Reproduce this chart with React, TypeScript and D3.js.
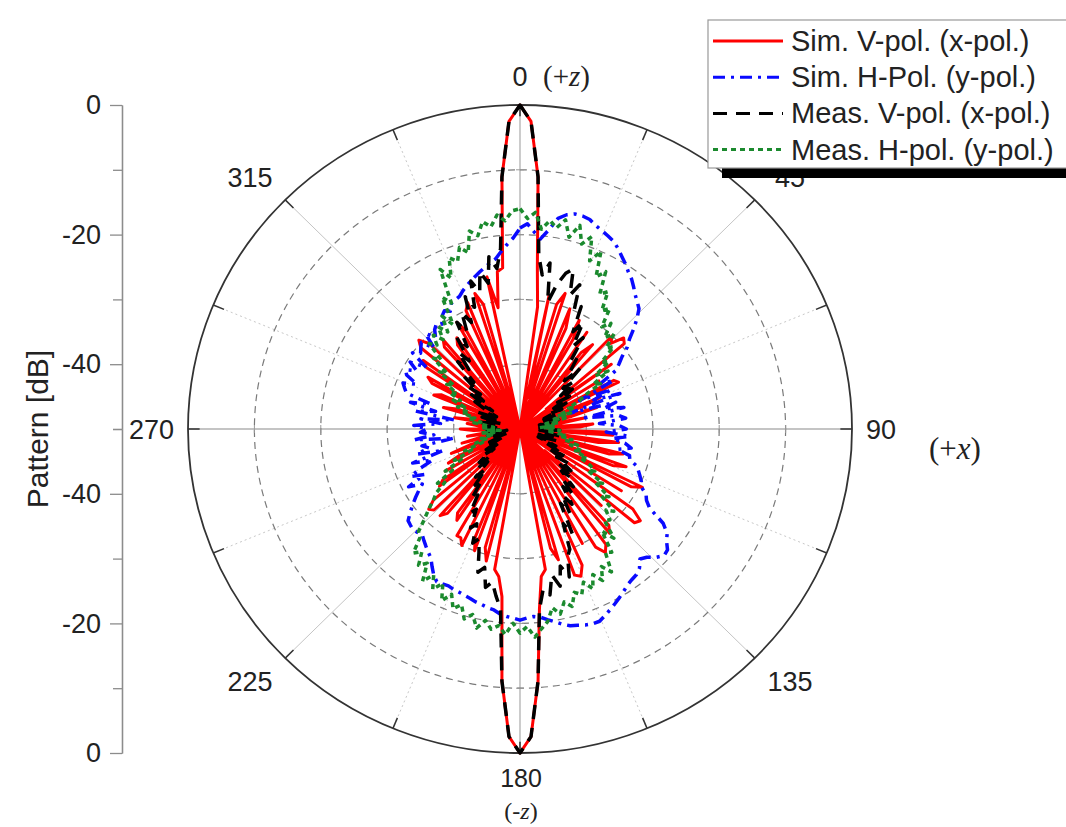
import React, { useEffect, useRef } from "react";
import * as d3 from "d3";

// angle grid of the pattern cut, degrees clockwise from +z
const angles = d3.range(0, 360, 2);

// Sim. V-pol. (x-pol.)
const simV = [
  0, -2.5, -11, -25, -31, -50, -29, -45, -30, -28,
  -50, -30, -33, -50, -31, -34, -50, -32, -50, -35,
  -33, -50, -30, -31, -29, -29.5, -45, -33, -50, -36,
  -50, -34, -33.5, -50, -37, -40, -50, -38, -42, -50,
  -40, -44, -50, -39, -41, -50, -37, -36, -50, -35,
  -38, -50, -34, -36, -50, -33, -35, -50, -29.5, -31,
  -50, -32, -50, -29, -27, -27.5, -45, -33, -50, -30,
  -29, -50, -28, -27, -28.5, -50, -30, -50, -27, -25.5,
  -26, -50, -29, -31, -50, -28, -27, -22, -11, -2.5,
  0, -2.5, -11, -24, -27, -28, -50, -29, -31, -50,
  -30, -32, -50, -30, -31, -31, -50, -33, -34, -50,
  -33, -32, -50, -32, -31.5, -33, -50, -35, -36, -50,
  -37, -50, -38, -40, -50, -39, -42, -50, -41, -44,
  -50, -42, -45, -50, -43, -41, -50, -44, -42, -50,
  -40, -43, -50, -38, -40, -50, -36, -37, -50, -35,
  -34, -50, -33, -32, -50, -30.5, -29.5, -31, -50, -33,
  -32, -50, -34, -33, -50, -31, -33, -50, -30, -29,
  -50, -28, -30, -50, -26, -31, -25.5, -25, -11, -2.5,
];

// Sim. H-Pol. (y-pol.)
const simH = [
  -19, -18.3, -19.5, -20.5, -19, -17, -16.2, -15.8, -15.8, -16,
  -16.6, -17, -17.4, -17.8, -18.5, -19.3, -20, -20.8, -21.4, -22.2,
  -23, -23.6, -24.2, -25.5, -27, -28.5, -29.5, -31, -32, -33,
  -36, -34, -40, -35, -38, -34, -42, -35, -37, -34,
  -40, -35, -34, -38, -35, -34, -37, -33.5, -36, -34,
  -33, -35, -33, -32.8, -31.5, -31, -30.5, -30, -29.7, -28.5,
  -28, -27, -24, -22.6, -22, -21, -20.8, -21.5, -22.5, -23,
  -22, -21.5, -21.3, -21, -20.5, -20, -19.5, -19, -18.5, -18,
  -18, -18.2, -18.5, -18.7, -19.2, -19.8, -20.3, -20.8, -21, -20.8,
  -20.5, -20.8, -21, -21.3, -21.8, -22, -22.3, -22.5, -22.8, -23,
  -23.2, -23.3, -23.5, -23.4, -23.3, -24, -25, -26, -26.5, -27,
  -27.5, -28, -27.8, -27.6, -27.8, -28, -29, -30, -31, -32,
  -33, -31, -34, -32, -33.8, -36, -33, -38, -34, -36,
  -35, -40, -34, -37, -35, -36, -34, -38, -35, -40,
  -34, -37, -33, -36, -32, -31.5, -31, -33, -31, -30.5,
  -32, -30.5, -33, -30, -31, -30.5, -30, -32, -29.5, -31,
  -30, -29.5, -30, -29, -28.5, -29, -28, -27.8, -27.6, -27,
  -26.5, -26, -25.5, -25, -24.5, -24, -23.5, -22.5, -21.5, -20.5,
];

// Meas. V-pol. (x-pol.)
const measV = [
  0, -2.5, -11, -23, -26, -24, -30, -27, -25, -24,
  -28, -26, -30, -29, -33, -31, -35, -33, -37, -36,
  -38, -40, -37, -41, -39, -42, -40, -43, -41, -44,
  -42, -45, -43, -46, -44, -47, -45, -46, -44, -47,
  -45, -46, -47, -45, -47, -46, -44, -47, -45, -46,
  -44, -46, -45, -47, -44, -46, -45, -47, -44, -46,
  -44, -42, -45, -41, -43, -40, -42, -39, -41, -38,
  -40, -37, -39, -36, -38, -35, -37, -32, -34, -30,
  -29, -26, -28, -25, -27, -24, -25, -22, -11, -2.5,
  0, -2.5, -11, -22, -24, -26, -25, -28, -27, -30,
  -32, -31, -34, -33, -36, -35, -38, -37, -40, -39,
  -42, -40, -43, -41, -44, -42, -45, -43, -46, -44,
  -46, -45, -47, -45, -47, -46, -48, -46, -47, -45,
  -47, -46, -48, -45, -47, -46, -44, -47, -45, -46,
  -44, -46, -45, -47, -44, -46, -43, -45, -44, -46,
  -44, -42, -45, -41, -43, -40, -42, -38, -40, -36,
  -38, -35, -37, -33, -35, -31, -33, -30, -32, -28,
  -30, -26, -28, -25, -27, -23, -25, -22, -11, -2.5,
];

// Meas. H-pol. (y-pol.)
const measH = [
  -16, -17.5, -16.5, -19, -17.5, -18.5, -17, -19.5, -17.3, -20,
  -18.4, -22, -20, -23.9, -22.5, -26, -25, -28, -27, -30,
  -28.7, -31, -29.6, -32, -31, -34, -33, -36, -34, -37,
  -36, -39, -40, -42, -41, -44, -42, -45, -43, -46,
  -44, -46, -45, -47, -45, -46, -44, -46, -45, -43,
  -44, -42, -43, -41, -42, -40, -41, -39, -40, -38,
  -37, -38, -35, -36, -33, -34, -31, -32, -30.5, -31,
  -28, -30, -26.5, -27, -24, -25.5, -23.5, -25, -23, -24.5,
  -22.8, -23.5, -21.5, -22.5, -20.8, -22, -20, -19, -17.8, -19.5,
  -18.5, -20, -18.2, -19.5, -18.8, -20, -18.6, -20.5, -19.5, -21.5,
  -20.5, -22.5, -21, -23.5, -22, -24, -22.3, -25, -24, -26,
  -25, -27.5, -28, -30, -31.5, -33, -34, -36, -35, -38,
  -37, -40, -39, -42, -41, -44, -43, -45, -44, -46,
  -45, -46, -44, -47, -45, -46, -44, -46, -45, -43,
  -44, -42, -43, -41, -42, -40, -41, -39, -40, -38,
  -39, -37, -38, -35, -36, -33, -34, -31, -32, -30.5,
  -32, -30, -31.5, -29, -31, -26.5, -28, -22.6, -24.5, -21.5,
  -22.5, -20.5, -21.7, -18.5, -19.5, -17.5, -18.5, -16.8, -17.8, -16.3,
];

const seriesNames = [
  "Sim. V-pol. (x-pol.)",
  "Sim. H-Pol. (y-pol.)",
  "Meas. V-pol. (x-pol.)",
  "Meas. H-pol. (y-pol.)",
];

const ringLevels = [-10, -20, -30, -40];
const axisMajor = [0, -20, -40];
const axisMinor = [-10, -30, -50];

const W = 1066;
const H = 827;
const cx = 520;
const cy = 429;
const rx = 332;
const ry = 324;
const sans = "'Liberation Sans', Arial, sans-serif";
const serif = "'Liberation Serif', 'Times New Roman', serif";

const App = () => {
  const ref = useRef<SVGSVGElement>(null);

  useEffect(() => {
    const svg = d3.select(ref.current);
    svg.selectAll("*").remove();

    const r = d3.scaleLinear().domain([-50, 0]).range([0, 1]).clamp(true);
    const rad = (a: number) => (a * Math.PI) / 180;
    const px = (a: number, rn: number) => cx + rx * rn * Math.sin(rad(a));
    const py = (a: number, rn: number) => cy - ry * rn * Math.cos(rad(a));

    const grid = svg.append("g");

    // spokes
    d3.range(0, 360, 22.5).forEach((a) => {
      const main = a % 90 === 0;
      const diag = !main && a % 45 === 0;
      grid
        .append("line")
        .attr("x1", cx)
        .attr("y1", cy)
        .attr("x2", px(a, 1))
        .attr("y2", py(a, 1))
        .attr("stroke", main ? "#b0b0b0" : diag ? "#c4c4c4" : "#c8c8c8")
        .attr("stroke-width", main ? 1.3 : 1)
        .attr("stroke-dasharray", main || diag ? null : "2,3");
    });

    // dashed rings
    grid
      .selectAll("ellipse.ring")
      .data(ringLevels)
      .join("ellipse")
      .attr("cx", cx)
      .attr("cy", cy)
      .attr("rx", (d) => rx * r(d))
      .attr("ry", (d) => ry * r(d))
      .attr("fill", "none")
      .attr("stroke", "#7a7a7a")
      .attr("stroke-width", 1.2)
      .attr("stroke-dasharray", "7,5");

    // small ticks on the axes at ring radii
    ringLevels.forEach((d) => {
      [0, 180].forEach((a) => {
        grid.append("line")
          .attr("x1", cx - 4).attr("x2", cx + 4)
          .attr("y1", py(a, r(d))).attr("y2", py(a, r(d)))
          .attr("stroke", "#999");
      });
      [90, 270].forEach((a) => {
        grid.append("line")
          .attr("x1", px(a, r(d))).attr("x2", px(a, r(d)))
          .attr("y1", cy - 4).attr("y2", cy + 4)
          .attr("stroke", "#999");
      });
    });

    // outer circle + ticks
    grid
      .append("ellipse")
      .attr("cx", cx)
      .attr("cy", cy)
      .attr("rx", rx)
      .attr("ry", ry)
      .attr("fill", "none")
      .attr("stroke", "#333")
      .attr("stroke-width", 1.8);
    d3.range(0, 360, 22.5).forEach((a) => {
      grid
        .append("line")
        .attr("x1", px(a, 1))
        .attr("y1", py(a, 1))
        .attr("x2", px(a, 0.965))
        .attr("y2", py(a, 0.965))
        .attr("stroke", "#333")
        .attr("stroke-width", 1.5);
    });

    // pattern traces
    const styles = [
      { color: "#ff0000", dash: null, width: 3 },
      { color: "#0a0aff", dash: "12,6,3,6", width: 3.5 },
      { color: "#000000", dash: "14,9", width: 3.5 },
      { color: "#1b8a2e", dash: "5,4", width: 3.5 },
    ];
    const allSeries = [simV, simH, measV, measH];
    const line = d3
      .line<[number, number]>()
      .x((d) => px(d[0], r(d[1])))
      .y((d) => py(d[0], r(d[1])))
      .curve(d3.curveLinearClosed);

    allSeries.forEach((vals, i) => {
      const pts = angles.map((a, k) => [a, vals[k]] as [number, number]);
      svg
        .append("path")
        .attr("d", line(pts))
        .attr("fill", "none")
        .attr("stroke", styles[i].color)
        .attr("stroke-width", styles[i].width)
        .attr("stroke-linejoin", "round")
        .attr("stroke-dasharray", styles[i].dash);
    });

    // left dB axis (mirrored)
    const yTop = d3.scaleLinear().domain([-50, 0]).range([cy, cy - ry]);
    const yBot = d3.scaleLinear().domain([-50, 0]).range([cy, cy + ry]);
    [yTop, yBot].forEach((sc) => {
      const gMaj = svg
        .append("g")
        .attr("transform", "translate(122,0)")
        .call(
          d3.axisLeft(sc).tickValues(axisMajor).tickSize(12).tickSizeOuter(0).tickPadding(9)
            .tickFormat((d) => String(d))
        );
      const gMin = svg
        .append("g")
        .attr("transform", "translate(122,0)")
        .call(d3.axisLeft(sc).tickValues(axisMinor).tickSize(9).tickSizeOuter(0).tickFormat(() => ""));
      [gMaj, gMin].forEach((g) => {
        g.selectAll("path, line").attr("stroke", "#8c8c8c").attr("stroke-width", 1.3);
        g.selectAll("text")
          .attr("font-size", 27)
          .attr("font-family", sans)
          .attr("fill", "#222");
      });
    });

    svg
      .append("text")
      .attr("transform", `translate(48,${cy}) rotate(-90)`)
      .attr("text-anchor", "middle")
      .attr("font-size", 30)
      .attr("font-family", sans)
      .attr("fill", "#222")
      .text("Pattern [dB]");

    // angle labels
    const lab = (x: number, y: number, t: string, anchor = "middle", size = 27) =>
      svg
        .append("text")
        .attr("x", x)
        .attr("y", y)
        .attr("text-anchor", anchor)
        .attr("font-size", size)
        .attr("font-family", sans)
        .attr("fill", "#222")
        .text(t);

    lab(520, 86, "0");
    lab(174, 439, "270", "end");
    lab(866, 439, "90", "start");
    lab(521, 787, "180", "middle", 25);
    [45, 135, 225, 315].forEach((a) => {
      lab(cx + rx * 1.15 * Math.sin(rad(a)), cy - ry * 1.1 * Math.cos(rad(a)) + 10, String(a));
    });

    const axisNote = (x: number, y: number, pre: string, v: string, anchor = "start", size = 29) => {
      const t = svg
        .append("text")
        .attr("x", x)
        .attr("y", y)
        .attr("text-anchor", anchor)
        .attr("font-size", size)
        .attr("font-family", serif)
        .attr("fill", "#222");
      t.append("tspan").text(pre);
      t.append("tspan").attr("font-style", "italic").text(v);
      t.append("tspan").text(")");
    };
    axisNote(543, 86, "(+", "z");
    axisNote(929, 459, "(+", "x", "start", 31);
    axisNote(521, 819, "(-", "z", "middle", 24);

    // legend
    const lg = svg.append("g");
    lg.append("rect")
      .attr("x", 722)
      .attr("y", 168)
      .attr("width", 360)
      .attr("height", 10)
      .attr("fill", "#000");
    lg.append("rect")
      .attr("x", 708)
      .attr("y", 20)
      .attr("width", 380)
      .attr("height", 148)
      .attr("fill", "#fff")
      .attr("stroke", "#999")
      .attr("stroke-width", 1.2);
    seriesNames.forEach((name, i) => {
      const y = 41 + i * 36.2;
      lg.append("line")
        .attr("x1", 713)
        .attr("x2", 783)
        .attr("y1", y)
        .attr("y2", y)
        .attr("stroke", styles[i].color)
        .attr("stroke-width", 3)
        .attr("stroke-dasharray", styles[i].dash);
      lg.append("text")
        .attr("x", 791)
        .attr("y", y + 10)
        .attr("font-size", 29)
        .attr("font-family", sans)
        .attr("fill", "#222")
        .text(name);
    });
  }, []);

  return (
    <div style={{ position: "absolute", left: 0, top: 0 }}>
      <svg ref={ref} width={W} height={H} style={{ display: "block", background: "#fff" }} />
    </div>
  );
};

export default App;
